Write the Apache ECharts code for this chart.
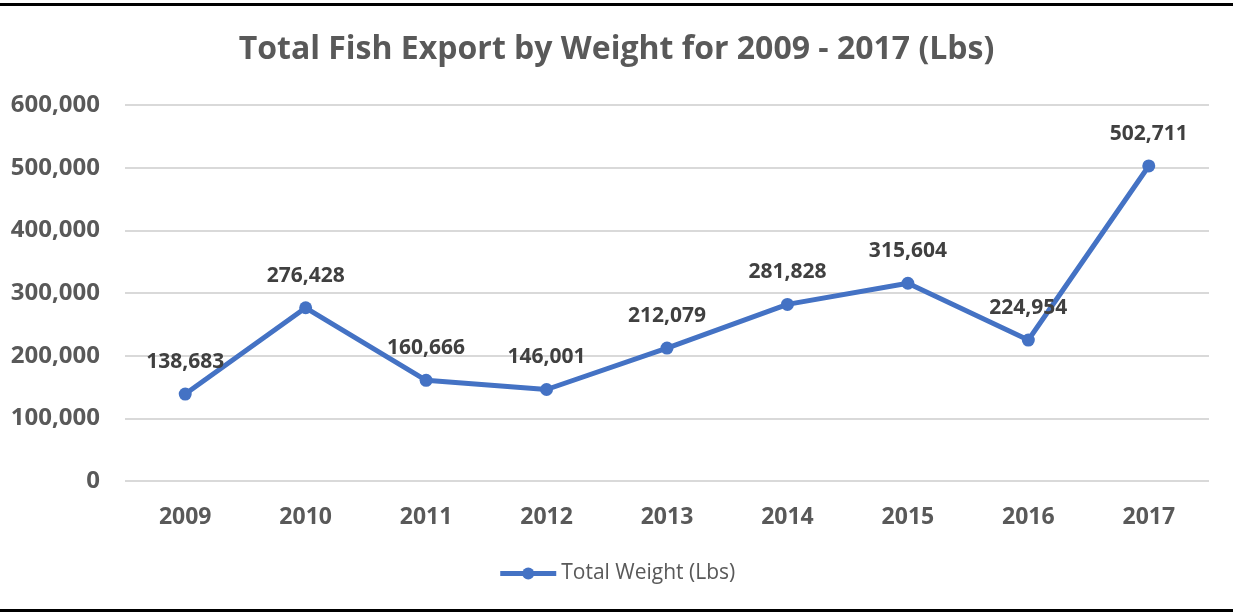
<!DOCTYPE html>
<html><head><meta charset="utf-8">
<script src="https://cdn.jsdelivr.net/npm/echarts@6/dist/echarts.min.js"></script>
<style>html,body{margin:0;padding:0;background:#fff}#c{width:1233px;height:613px}</style>
</head><body><div id="c"></div>
<script>
const categories = ['2009','2010','2011','2012','2013','2014','2015','2016','2017'];
const totalWeight = [138683, 276428, 160666, 146001, 212079, 281828, 315604, 224954, 502711];
const yTicks = [0, 100000, 200000, 300000, 400000, 500000, 600000];
const seriesName = 'Total Weight (Lbs)';
const titleText = 'Total Fish Export by Weight for 2009 - 2017 (Lbs)';

const font = '"Open Sans", Lato, sans-serif';
const fmt = v => v.toLocaleString('en-US');
const chart = echarts.init(document.getElementById('c'));
chart.setOption({
  animation: false,
  title: {text: titleText, left: 'center', top: 29,
    textStyle: {fontFamily: font, fontSize: 32, fontWeight: 'bold', color: '#595959'}},
  graphic: [
    {type: 'rect', shape: {x: 0, y: 3, width: 1233, height: 3}, style: {fill: '#000'}},
    {type: 'rect', shape: {x: 0, y: 609, width: 1233, height: 3}, style: {fill: '#000'}}
  ],
  legend: {data: [seriesName], bottom: 24, left: 'center', itemWidth: 56, itemHeight: 15,
    itemGap: 3,
    lineStyle: {width: 5},
    textStyle: {fontFamily: font, fontSize: 21, color: '#595959'}},
  grid: {left: 125, right: 24, top: 105, bottom: 132, containLabel: false},
  xAxis: {type: 'category', data: categories, boundaryGap: true,
    axisLine: {show: false}, axisTick: {show: false},
    axisLabel: {margin: 25, fontFamily: font, fontSize: 23, fontWeight: 'bold', color: '#595959'}},
  yAxis: {type: 'value', min: yTicks[0], max: yTicks[yTicks.length-1], interval: 100000,
    axisLine: {show: false}, axisTick: {show: false},
    splitLine: {lineStyle: {color: '#d9d9d9', width: 2}},
    axisLabel: {margin: 25, formatter: v => fmt(v), fontFamily: font, fontSize: 24, fontWeight: 'bold', color: '#595959'}},
  series: [{
    name: seriesName, type: 'line', data: totalWeight,
    symbol: 'circle', symbolSize: 13,
    lineStyle: {color: '#4472C4', width: 5},
    itemStyle: {color: '#4472C4'},
    label: {show: true, position: 'top', distance: 15, formatter: p => fmt(p.value),
      fontFamily: font, fontSize: 21, fontWeight: 'bold', color: '#404040'}
  }]
});
</script></body></html>
